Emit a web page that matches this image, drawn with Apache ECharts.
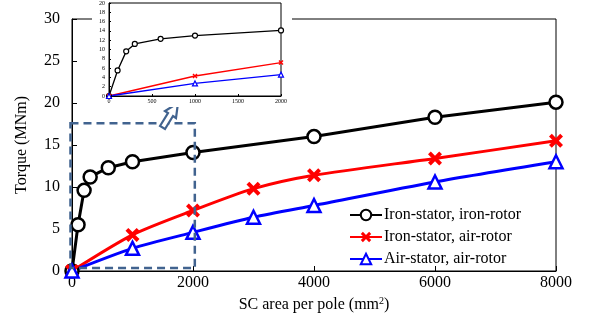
<!DOCTYPE html>
<html><head><meta charset="utf-8">
<script src="https://cdn.jsdelivr.net/npm/echarts@6/dist/echarts.min.js"></script>
<style>html,body{margin:0;padding:0;background:#fff}#c{width:589px;height:323px}</style>
</head><body><div id="c"></div>
<script>
const xIron = [0, 100, 200, 300, 600, 1000, 2000, 4000, 6000, 8000];
const torqueIronIron = [0, 5.5, 9.6, 11.2, 12.3, 13.0, 14.1, 16.0, 18.3, 20.1];
const xAir = [0, 1000, 2000, 3000, 4000, 6000, 8000];
const torqueIronAir = [0, 4.3, 7.2, 9.8, 11.4, 13.4, 15.5];
const torqueAirAir = [0, 2.7, 4.6, 6.4, 7.8, 10.6, 13.0];
const seriesNames = ['Iron-stator, iron-rotor', 'Iron-stator, air-rotor', 'Air-stator, air-rotor'];
const insetMaxX = 2000;

const pair = (xs, ys) => xs.map((x, i) => [x, ys[i]]);
const clip = (pts) => pts.filter(p => p[0] <= insetMaxX);
const plain = v => String(v);

const font = 'Liberation Serif';
const crossPath = 'path://M2,0L5,3L8,0L10,2L7,5L10,8L8,10L5,7L2,10L0,8L3,5L0,2Z';

const chart = echarts.init(document.getElementById('c'));

function mainSeries(name, data, color, symbol, size, extra) {
  return Object.assign({
    name, type: 'line', data, xAxisIndex: 0, yAxisIndex: 0,
    symbol, symbolSize: size, z: 2,
    lineStyle: { color, width: 3 },
    itemStyle: symbol === crossPath ? { color } : { color: '#fff', borderColor: color, borderWidth: 2.5 },
    color
  }, extra || {});
}
function insetSeries(name, data, color, symbol, size, extra) {
  return Object.assign({
    name: name + ' (inset)', type: 'line', data, xAxisIndex: 1, yAxisIndex: 1,
    symbol, symbolSize: size, z: 8, silent: true,
    lineStyle: { color, width: 1.3 },
    itemStyle: symbol === crossPath ? { color } : { color: '#fff', borderColor: color, borderWidth: 1.2 },
    color
  }, extra || {});
}

const axisCommon = {
  axisLine: { show: true, lineStyle: { color: '#000', width: 1 } },
  axisTick: { show: true, inside: true, length: 5, lineStyle: { color: '#000' } },
  splitLine: { show: false }
};

chart.setOption({
  animation: false,
  backgroundColor: '#fff',
  grid: [
    { left: 72, top: 19, right: 33, bottom: 52, show: true, borderColor: '#000', borderWidth: 1, backgroundColor: 'transparent' },
    { left: 109, top: 3, width: 172, height: 93, show: true, borderColor: '#000', borderWidth: 1, backgroundColor: '#fff', z: 6 }
  ],
  xAxis: [
    Object.assign({}, axisCommon, {
      type: 'value', gridIndex: 0, min: 0, max: 8000, interval: 2000,
      name: '{a|SC area per pole (mm}{s|2}{a|)}', nameLocation: 'middle', nameGap: 25,
      nameTextStyle: { rich: { a: { fontFamily: font, fontSize: 16, color: '#000' }, s: { fontFamily: font, fontSize: 10, color: '#000', verticalAlign: 'top', padding: [0, 0, 8, 0] } } },
      axisLabel: { fontFamily: font, fontSize: 16, color: '#000', margin: 4, formatter: plain }
    }),
    Object.assign({}, axisCommon, {
      type: 'value', gridIndex: 1, min: 0, max: 2000, interval: 500, z: 7,
      axisTick: { show: true, inside: true, length: 2, lineStyle: { color: '#000' } },
      axisLabel: { fontFamily: font, fontSize: 6, color: '#000', margin: 2, formatter: plain }
    })
  ],
  yAxis: [
    Object.assign({}, axisCommon, {
      type: 'value', gridIndex: 0, min: 0, max: 30, interval: 5,
      name: 'Torque (MNm)', nameLocation: 'middle', nameGap: 42,
      nameTextStyle: { fontFamily: font, fontSize: 16, color: '#000' },
      axisLabel: { fontFamily: font, fontSize: 16, color: '#000', margin: 12, formatter: plain }
    }),
    Object.assign({}, axisCommon, {
      type: 'value', gridIndex: 1, min: 0, max: 20, interval: 2, z: 7,
      axisTick: { show: true, inside: true, length: 2, lineStyle: { color: '#000' } },
      axisLabel: { fontFamily: font, fontSize: 6, color: '#000', margin: 4, formatter: plain }
    })
  ],
  legend: {
    data: seriesNames,
    orient: 'vertical', left: 349, top: 207, itemGap: 6, padding: 0,
    itemWidth: 32, itemHeight: 13,
    textStyle: { fontFamily: font, fontSize: 16, color: '#000', padding: [0, 0, 0, -3] }
  },
  series: [
    mainSeries(seriesNames[0], pair(xIron, torqueIronIron), '#000', 'circle', 13),
    mainSeries(seriesNames[1], pair(xAir, torqueIronAir), '#ff0000', crossPath, 14, { smooth: 0.25 }),
    mainSeries(seriesNames[2], pair(xAir, torqueAirAir), '#0000ff', 'triangle', 13, { smooth: 0.25 }),
    insetSeries(seriesNames[0], clip(pair(xIron, torqueIronIron)), '#000', 'circle', 5),
    insetSeries(seriesNames[1], clip(pair(xAir, torqueIronAir)), '#ff0000', crossPath, 5),
    insetSeries(seriesNames[2], clip(pair(xAir, torqueAirAir)), '#0000ff', 'triangle', 5)
  ]
});

// Zoom-box annotation and arrow (decorations)
const p0 = chart.convertToPixel({ gridIndex: 0 }, [-25, 0.35]);
const p1 = chart.convertToPixel({ gridIndex: 0 }, [2030, 17.6]);
const boxColor = '#41638f';
chart.setOption({
  graphic: [
    { type: 'rect', z: 5, shape: { x: 92, y: 0, width: 200, height: 107 }, style: { fill: '#fff' } },
    { type: 'rect', z: 4, shape: { x: p0[0], y: p1[1], width: p1[0] - p0[0], height: p0[1] - p1[1] },
      style: { fill: 'none', stroke: boxColor, lineWidth: 2.5, lineDash: [8, 5] } },
    { type: 'polygon', z: 4,
      shape: { points: [[160, 126], [168, 113], [165, 111], [178, 103], [176, 118], [173, 116], [165, 129]] },
      style: { fill: '#fff', stroke: boxColor, lineWidth: 2.2 } }
  ]
});
</script></body></html>
